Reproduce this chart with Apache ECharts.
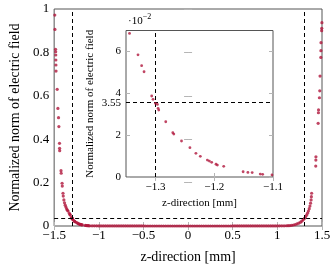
<!DOCTYPE html>
<html>
<head>
<meta charset="utf-8">
<script src="https://cdn.jsdelivr.net/npm/echarts@6/dist/echarts.min.js"></script>
<style>html,body{margin:0;padding:0;background:#fff}#c{width:336px;height:269px}</style>
</head>
<body>
<div id="c"></div>
<script>
// ---- data ----
const leftZ = [-1.493,-1.491,-1.484,-1.483,-1.482,-1.481,-1.480,-1.479,-1.466,-1.458,-1.451,-1.447,-1.440,-1.439,-1.438,-1.423,-1.421,-1.411,-1.409,-1.401,-1.398,-1.391,-1.384,-1.376,-1.368,-1.360,-1.352,
  -1.344,-1.3296,-1.3234,-1.3193,-1.3063,-1.304,-1.300,-1.2966,-1.2954,-1.2943,-1.2824,-1.2704,-1.2687,-1.2556,-1.2413,-1.2311,-1.2236,-1.2116,-1.2082,-1.2043,-1.1969,-1.1946,-1.1838,-1.1508,-1.1427,-1.1354,-1.1217,-1.1176,-1.1017];
const leftV = [0.972,0.906,0.814,0.803,0.788,0.765,0.742,0.714,0.630,0.542,0.499,0.458,0.381,0.358,0.347,0.255,0.243,0.197,0.184,0.151,0.138,0.120,0.107,0.096,0.087,0.079,0.073,
  0.0686,0.0584,0.0532,0.0503,0.0387,0.0371,0.0352,0.0347,0.0328,0.0320,0.0264,0.0212,0.0205,0.0172,0.0140,0.0113,0.0099,0.0081,0.0076,0.0070,0.0061,0.0057,0.0051,0.0025,0.0022,0.0021,0.0014,0.0013,0.0010];
const midZ = [-1.075,-1.05,-1.025,-1,-0.975,-0.95,-0.925,-0.9,-0.875,-0.85,-0.825,-0.8,-0.775,-0.75,-0.725,-0.7,-0.675,-0.65,-0.625,-0.6,-0.575,-0.55,-0.525,-0.5,-0.475,-0.45,-0.425,-0.4,-0.375,-0.35,-0.325,-0.3,-0.275,-0.25,-0.225,-0.2,-0.175,-0.15,-0.125,-0.1,-0.075,-0.05,-0.025,0,0.025,0.05,0.075,0.1,0.125,0.15,0.175,0.2,0.225,0.25,0.275,0.3,0.325,0.35,0.375,0.4,0.425,0.45,0.475,0.5,0.525,0.55,0.575,0.6,0.625,0.65,0.675,0.7,0.725,0.75,0.775,0.8,0.825,0.85,0.875,0.9,0.925,0.95,0.975,1,1.025,1.05,1.075];
const midV = [0.0009,0.0007,0.0006,0.0005,0.0004,0.0004,0.0003,0.0003,0.0003,0.0002,
  0.0002,0.0002,0.0002,0.0002,0.0002,0.0002,0.0002,0.0002,0.0002,0.0002,0.0002,0.0002,0.0002,0.0002,
  0.0001,0.0001,0.0001,0.0001,0.0001,0.0001,0.0001,0.0001,0.0001,0.0001,0.0001,0.0001,0.0001,0.0001,0.0001,0.0001,0.0001,0.0001,0.0001,0.0001,0.0001,0.0001,0.0001,0.0001,0.0001,0.0001,0.0001,0.0001,0.0001,0.0001,0.0001,0.0001,0.0001,0.0001,0.0001,0.0001,0.0001,0.0001,0.0001,
  0.0002,0.0002,0.0002,0.0002,0.0002,0.0002,0.0002,0.0002,0.0002,0.0002,0.0002,0.0002,0.0002,0.0002,
  0.0002,0.0003,0.0003,0.0003,0.0004,0.0004,0.0005,0.0006,0.0008,0.0010];
const rightZ = [1.100,1.12,1.14,1.16,1.18,1.20,1.22,1.24,1.26,1.275,1.29,1.303,1.315,1.327,1.338,1.348,1.357,1.365,1.372,1.378,1.381,1.384,1.430,1.431,1.432,1.457,1.460,1.461,1.471,1.475,1.478,1.487,1.488,1.489,1.496,1.497,1.499];
const rightV = [0.0011,0.0015,0.0021,0.0031,0.0046,0.0066,0.0094,0.0132,0.0178,0.0225,0.0285,0.0350,0.0420,0.0500,0.0590,0.0690,0.0800,0.0920,0.1050,0.1200,0.1350,0.1510,0.276,0.304,0.319,0.473,0.522,0.535,0.591,0.623,0.691,0.777,0.808,0.845,0.900,0.911,0.937];

const mainXTicks = [-1.5, 1.5, 0.5];      // min, max, interval
const mainYTicks = [0, 1, 0.2];
const insetXRange = [-1.35, -1.1];
const insetXTicks = [-1.3, -1.2, -1.1];
const insetYRange = [0, 0.07];
const insetYTicks = [0, 0.02, 0.04, 0.06];
const insetYLabels = [0, 0.02, 0.0355, 0.04, 0.06];
const vLines = [-1.3, 1.3];
const hLine = 0.0355;

// ---- build ----
const allZ = leftZ.concat(midZ, rightZ);
const allV = leftV.concat(midV, rightV);
const pts = allZ.map((z, i) => [z, allV[i]]);

const FONT = 'Liberation Serif';
const RED = '#b0173c';
const minus = v => String(v).replace('-', '\u2212');
const pct = v => String(Math.round(v * 10000) / 100);
const tickStyle = { show: true, inside: true, length: 4, lineStyle: { color: '#b5b5b5', width: 1 } };
const dash = { type: [4, 3], color: '#000', width: 1 };

const chart = echarts.init(document.getElementById('c'), null, { renderer: 'canvas' });
chart.setOption({
  animation: false,
  backgroundColor: '#fff',
  grid: [
    { left: 46, top: 9, width: 276, height: 217, show: true, borderColor: '#555', borderWidth: 1, backgroundColor: 'transparent' },
    { left: 126, top: 30.5, width: 147, height: 146.5, show: true, borderColor: '#555', borderWidth: 1, backgroundColor: '#fff' }
  ],
  xAxis: [
    { gridIndex: 0, type: 'value', min: mainXTicks[0], max: mainXTicks[1], interval: mainXTicks[2], position: 'bottom',
      axisLine: { show: false }, splitLine: { show: false }, axisTick: tickStyle,
      axisLabel: { formatter: minus, fontFamily: FONT, fontSize: 13, color: '#000', margin: 3 },
      name: 'z-direction [mm]', nameLocation: 'middle', nameGap: 24,
      nameTextStyle: { fontFamily: FONT, fontSize: 14, color: '#000' } },
    { gridIndex: 0, type: 'value', min: mainXTicks[0], max: mainXTicks[1], interval: mainXTicks[2], position: 'top',
      axisLine: { show: false }, splitLine: { show: false }, axisTick: tickStyle, axisLabel: { show: false } },
    { gridIndex: 1, type: 'value', min: insetXRange[0], max: insetXRange[1], position: 'bottom',
      axisLine: { show: false }, splitLine: { show: false },
      axisTick: Object.assign({ customValues: insetXTicks }, tickStyle),
      axisLabel: { customValues: insetXTicks, formatter: minus, fontFamily: FONT, fontSize: 11, color: '#000', margin: 5 },
      name: 'z-direction [mm]', nameLocation: 'middle', nameGap: 20,
      nameTextStyle: { fontFamily: FONT, fontSize: 11, color: '#000' } },
    { gridIndex: 1, type: 'value', min: insetXRange[0], max: insetXRange[1], position: 'top',
      axisLine: { show: false }, splitLine: { show: false },
      axisTick: Object.assign({ customValues: insetXTicks }, tickStyle), axisLabel: { show: false } }
  ],
  yAxis: [
    { gridIndex: 0, type: 'value', min: mainYTicks[0], max: mainYTicks[1], interval: mainYTicks[2], position: 'left',
      axisLine: { show: false }, splitLine: { show: false }, axisTick: tickStyle,
      axisLabel: { formatter: v => String(+v.toFixed(2)), fontFamily: FONT, fontSize: 13, color: '#000', margin: 5 },
      name: 'Normalized norm of electric field', nameLocation: 'middle', nameGap: 30,
      nameTextStyle: { fontFamily: FONT, fontSize: 14, color: '#000' } },
    { gridIndex: 0, type: 'value', min: mainYTicks[0], max: mainYTicks[1], interval: mainYTicks[2], position: 'right',
      axisLine: { show: false }, splitLine: { show: false }, axisTick: tickStyle, axisLabel: { show: false } },
    { gridIndex: 1, type: 'value', min: insetYRange[0], max: insetYRange[1], position: 'left',
      axisLine: { show: false }, splitLine: { show: false },
      axisTick: Object.assign({ customValues: insetYTicks }, tickStyle), axisLabel: { show: false },
      name: 'Normalized norm of electric field', nameLocation: 'middle', nameGap: 30,
      nameTextStyle: { fontFamily: FONT, fontSize: 11, color: '#000' } },
    { gridIndex: 1, type: 'value', min: insetYRange[0], max: insetYRange[1], position: 'right',
      axisLine: { show: false }, splitLine: { show: false },
      axisTick: Object.assign({ customValues: insetYTicks }, tickStyle), axisLabel: { show: false } }
  ],
  series: [
    { type: 'scatter', xAxisIndex: 0, yAxisIndex: 0, data: pts, symbolSize: 3.2, itemStyle: { color: RED }, z: 3,
      markLine: { silent: true, symbol: 'none', precision: 6, label: { show: false }, lineStyle: dash, animation: false,
        data: vLines.map(x => ({ xAxis: x })).concat([{ yAxis: hLine }]) } },
    { type: 'scatter', xAxisIndex: 2, yAxisIndex: 2, data: pts, symbolSize: 2.8, itemStyle: { color: RED }, clip: true, z: 5,
      markLine: { silent: true, symbol: 'none', precision: 6, lineStyle: dash, animation: false,
        label: { show: false },
        data: [{ xAxis: vLines[0] }, { yAxis: hLine }] } }
  ]
});
// inset y tick labels (incl. the extra 3.55 level) and the ·10^-2 multiplier, placed through the inset scales
const g = [];
insetYLabels.forEach(v => {
  const p = chart.convertToPixel({ xAxisIndex: 2, yAxisIndex: 2 }, [insetXRange[0], v]);
  g.push({ type: 'text', x: p[0] - 5, y: p[1], silent: true, z: 10,
    style: { text: pct(v), fontFamily: FONT, fontSize: 11, fill: '#000', align: 'right', verticalAlign: 'middle' } });
});
const insetTopPt = chart.convertToPixel({ xAxisIndex: 2, yAxisIndex: 2 }, [insetXRange[0], insetYRange[1]]);
g.push({ type: 'text', x: insetTopPt[0] + 2, y: insetTopPt[1] - 4, silent: true, z: 10,
  style: { text: '{a|·10}{b|\u22122}', fontFamily: FONT, fontSize: 11, fill: '#000', align: 'left', verticalAlign: 'bottom',
    rich: { a: { fontFamily: FONT, fontSize: 11, fill: '#000', verticalAlign: 'bottom', lineHeight: 14 },
            b: { fontFamily: FONT, fontSize: 8, fill: '#000', verticalAlign: 'top' } } } });
chart.setOption({ graphic: g });
</script>
</body>
</html>
